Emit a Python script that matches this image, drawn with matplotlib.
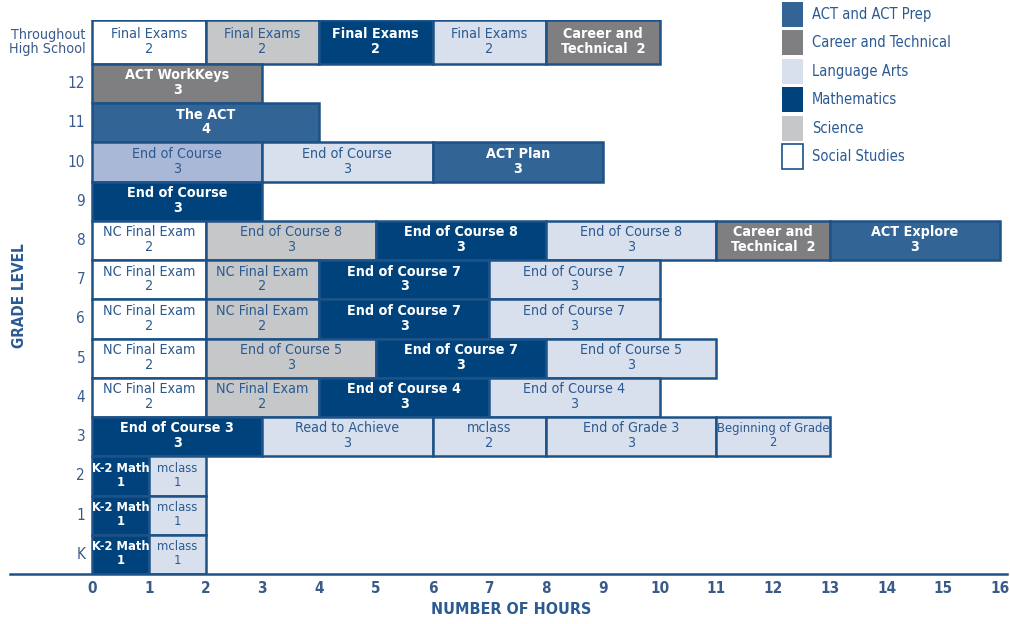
import matplotlib
matplotlib.use("Agg")
import matplotlib.pyplot as plt
from matplotlib import font_manager
from matplotlib.patches import Rectangle

# use a condensed face when the system has one
cond = [f for f in font_manager.fontManager.ttflist
        if f.name == "DejaVu Sans" and f.stretch == "condensed"]
if cond:
    plt.rcParams["font.family"] = ["DejaVu Sans"]
    plt.rcParams["font.stretch"] = "condensed"
    base = 10.3
else:
    plt.rcParams["font.family"] = ["Roboto", "DejaVu Sans"]
    base = 9.5

# rows, bottom to top
grades = ["K", "1", "2", "3", "4", "5", "6", "7", "8", "9", "10", "11", "12",
          "Throughout\nHigh School"]

# one entry per test, in order along each row
seg_grade = (["Throughout\nHigh School"] * 5 + ["12", "11"] + ["10"] * 3 + ["9"]
             + ["8"] * 6 + ["7"] * 4 + ["6"] * 4 + ["5"] * 4 + ["4"] * 4
             + ["3"] * 5 + ["2"] * 2 + ["1"] * 2 + ["K"] * 2)
seg_name = [
    "Final Exams", "Final Exams", "Final Exams", "Final Exams", "Career and\nTechnical  2",
    "ACT WorkKeys", "The ACT",
    "End of Course", "End of Course", "ACT Plan",
    "End of Course",
    "NC Final Exam", "End of Course 8", "End of Course 8", "End of Course 8",
    "Career and\nTechnical  2", "ACT Explore",
    "NC Final Exam", "NC Final Exam", "End of Course 7", "End of Course 7",
    "NC Final Exam", "NC Final Exam", "End of Course 7", "End of Course 7",
    "NC Final Exam", "End of Course 5", "End of Course 7", "End of Course 5",
    "NC Final Exam", "NC Final Exam", "End of Course 4", "End of Course 4",
    "End of Course 3", "Read to Achieve", "mclass", "End of Grade 3", "Beginning of Grade",
    "K-2 Math", "mclass", "K-2 Math", "mclass", "K-2 Math", "mclass",
]
seg_hours = [2, 2, 2, 2, 2,
             3, 4,
             3, 3, 3,
             3,
             2, 3, 3, 3, 2, 3,
             2, 2, 3, 3,
             2, 2, 3, 3,
             2, 3, 3, 3,
             2, 2, 3, 3,
             3, 3, 2, 3, 2,
             1, 1, 1, 1, 1, 1]
seg_subject = [
    "Social Studies", "Science", "Mathematics", "Language Arts", "Career and Technical",
    "Career and Technical", "ACT and ACT Prep",
    "Other", "Language Arts", "ACT and ACT Prep",
    "Mathematics",
    "Social Studies", "Science", "Mathematics", "Language Arts", "Career and Technical",
    "ACT and ACT Prep",
    "Social Studies", "Science", "Mathematics", "Language Arts",
    "Social Studies", "Science", "Mathematics", "Language Arts",
    "Social Studies", "Science", "Mathematics", "Language Arts",
    "Social Studies", "Science", "Mathematics", "Language Arts",
    "Mathematics", "Language Arts", "Language Arts", "Language Arts", "Language Arts",
    "Mathematics", "Language Arts", "Mathematics", "Language Arts",
    "Mathematics", "Language Arts",
]

legend_subjects = ["ACT and ACT Prep", "Career and Technical", "Language Arts",
                   "Mathematics", "Science", "Social Studies"]
subject_colors = {
    "ACT and ACT Prep": "#336496",
    "Career and Technical": "#7f7f82",
    "Language Arts": "#d9e0ed",
    "Mathematics": "#00427b",
    "Science": "#c6c7c9",
    "Social Studies": "#ffffff",
    "Other": "#a9b8d7",
}
dark = {"ACT and ACT Prep", "Career and Technical", "Mathematics"}

edge = "#1d5288"
text_blue = "#2b5a92"

fig = plt.figure(figsize=(10.1, 6.24), dpi=100)
ax = fig.add_axes([10 / 1010, 50 / 624, 997 / 1010, 554 / 624])

# the top row is a little taller than the others
top_h = 1.12
ypos = {g: i for i, g in enumerate(grades)}
ypos[grades[-1]] = len(grades) - 1.5 + top_h / 2
heights = {g: 1.0 for g in grades}
heights[grades[-1]] = top_h

filled = {g: 0 for g in grades}
for g, name, h, subj in zip(seg_grade, seg_name, seg_hours, seg_subject):
    y = ypos[g]
    left = filled[g]
    ax.barh(y, h, left=left, height=heights[g], color=subject_colors[subj],
            edgecolor=edge, linewidth=1.8, zorder=2)
    filled[g] += h
    if "\n" in name:
        label = name
    else:
        label = f"{name}\n{h}"
    is_dark = subj in dark
    size = base
    if h == 1 or name == "Beginning of Grade":
        size = base - 1
    ax.text(left + h / 2, y + 0.02, label, ha="center", va="center",
            fontsize=size, linespacing=1.08,
            color="white" if is_dark else text_blue,
            fontweight="bold" if is_dark else "normal", zorder=3)

# grade labels left of the bars
for g in grades:
    ax.text(-0.12, ypos[g], g, ha="right", va="center",
            fontsize=base if "\n" in g else base + 0.7,
            color="#3b5a8a", linespacing=0.95)

x_per_px = 16 / (1000 - 92)
ax.set_xlim(-82 * x_per_px, 16 + 7 * x_per_px)
ax.set_ylim(-0.5, len(grades) - 1.5 + top_h)
ax.set_xticks(range(0, 17))
ax.tick_params(axis="x", length=0, pad=5, labelsize=base + 0.7, labelcolor="#3b5a8a")
for lab in ax.get_xticklabels():
    lab.set_fontweight("bold")
ax.set_yticks([])
for side in ["top", "left", "right"]:
    ax.spines[side].set_visible(False)
ax.spines["bottom"].set_color(edge)
ax.spines["bottom"].set_linewidth(1.8)

fig.text(511 / 1010, 1 - 609 / 624, "NUMBER OF HOURS", ha="center", va="center",
         fontsize=11.5, fontweight="bold", color=text_blue)
fig.text(20 / 1010, 1 - 296 / 624, "GRADE LEVEL", ha="center", va="center",
         rotation=90, fontsize=11, fontweight="bold", color=text_blue)

# legend drawn by hand, top right
for i, subj in enumerate(legend_subjects):
    top = 2 + i * 28.4
    fig.add_artist(Rectangle((782 / 1010, 1 - (top + 25) / 624), 21 / 1010, 25 / 624,
                             transform=fig.transFigure, facecolor=subject_colors[subj],
                             edgecolor=edge if subj == "Social Studies" else "none",
                             linewidth=1.2))
    fig.text(812 / 1010, 1 - (top + 12.5) / 624, subj, ha="left", va="center",
             fontsize=10.5, color=text_blue)

fig.savefig("out.png", dpi=100)
